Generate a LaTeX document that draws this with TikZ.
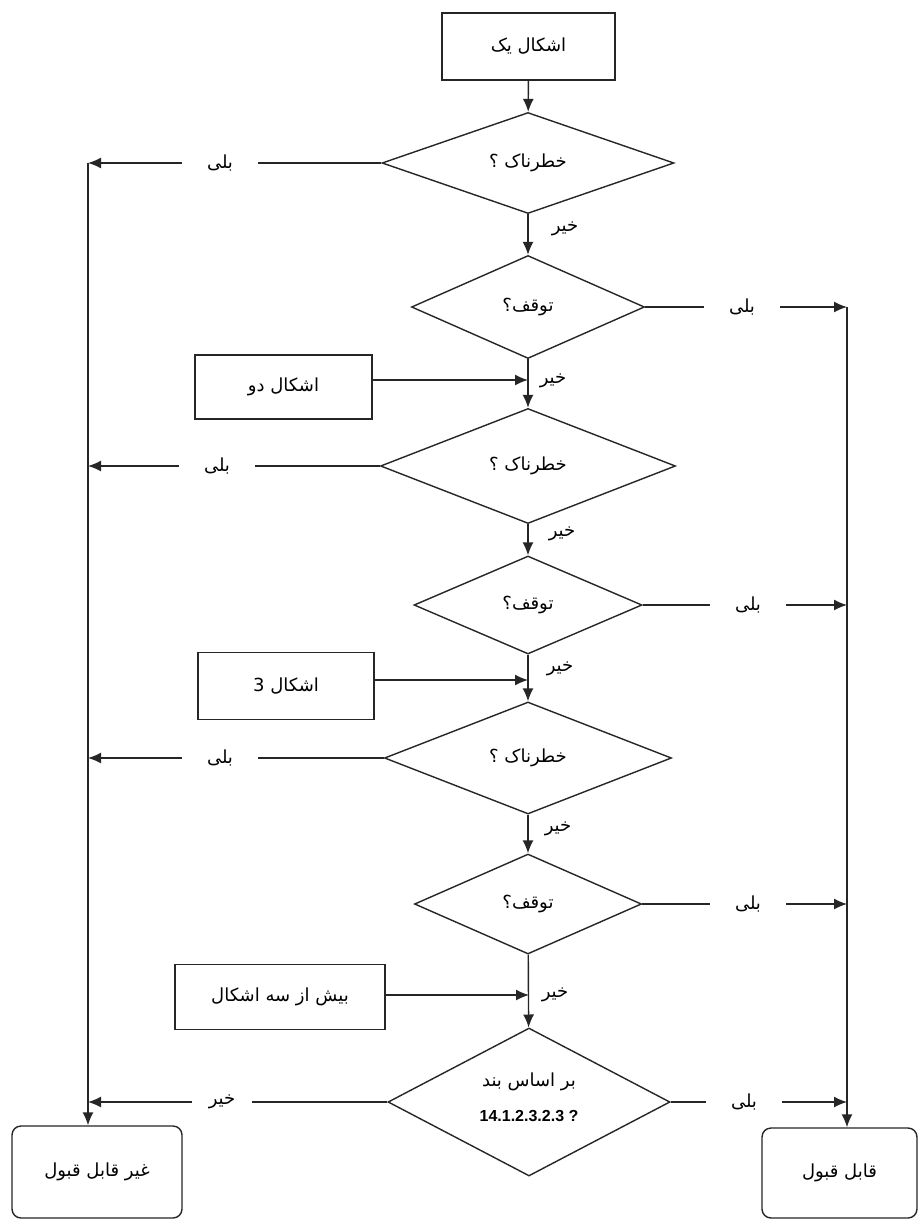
\documentclass[tikz,border=0pt]{standalone}
\usepackage{fontspec}
\usetikzlibrary{shapes.geometric,arrows.meta}
\TeXXeTstate=1
\newfontfamily\fa[Script=Arabic]{DejaVu Sans}
\newfontfamily\lat{Liberation Sans}
\newcommand{\rtl}[1]{{\fa\beginR #1\endR}}
\begin{document}
\begin{tikzpicture}[x=1pt,y=-1pt,
  every node/.style={font=\fa\fontsize{18}{20}\selectfont},
  conn/.style={line width=1.4pt,draw=black!85},
  arr/.style={conn,-{Latex[length=13pt,width=11pt]}},
  rectbox/.style={draw=black!85,line width=1.4pt,rectangle,inner sep=0pt},
  endbox/.style={rectbox,rounded corners=9pt},
  dec/.style={draw=black!85,line width=1.4pt,diamond,inner sep=0pt},
  lbl/.style={minimum width=76pt,inner sep=0pt,minimum height=10pt},
  nolbl/.style={inner sep=0pt}]
\fill[white] (0,0) rectangle (922,1220);
\useasboundingbox (0,0) rectangle (922,1220);

% boxes
\node[rectbox,minimum width=173pt,minimum height=67pt] (b1) at (528.5,46.5) {\rtl{اشکال یک}};
\node[rectbox,minimum width=177pt,minimum height=64pt] (b2) at (283.5,387) {\rtl{اشکال دو}};
\node[rectbox,minimum width=176pt,minimum height=67pt] (b3) at (286,686) {\rtl{اشکال 3}};
\node[rectbox,minimum width=210pt,minimum height=65pt] (b4) at (280,997) {\rtl{بیش از سه اشکال}};
\node[endbox,minimum width=170pt,minimum height=92pt] (rej) at (97,1172) {\rtl{غیر قابل قبول}};
\node[endbox,minimum width=155pt,minimum height=90pt] (acc) at (839.5,1173) {\rtl{قابل قبول}};

% decisions
\node[dec,minimum width=292pt,minimum height=101pt] (d1) at (528,163) {\rtl{خطرناک ؟}};
\node[dec,minimum width=233pt,minimum height=103pt] (d2) at (528,307) {\rtl{توقف؟}};
\node[dec,minimum width=295pt,minimum height=115pt] (d3) at (528,466) {\rtl{خطرناک ؟}};
\node[dec,minimum width=228pt,minimum height=98pt] (d4) at (528,605) {\rtl{توقف؟}};
\node[dec,minimum width=287pt,minimum height=112pt] (d5) at (528,758) {\rtl{خطرناک ؟}};
\node[dec,minimum width=227pt,minimum height=100pt] (d6) at (528,904) {\rtl{توقف؟}};
\node[dec,minimum width=282pt,minimum height=148pt] (d7) at (529,1102) {};
\node (d7a) at (529,1082) {\rtl{بر اساس بند}};
\node[font=\lat\bfseries\fontsize{16}{18}\selectfont] (d7b) at (529,1116) {14.1.2.3.2.3 ?};

% side rails
\coordinate (Ltop) at (88,163);
\coordinate (Rtop) at (847,307);
\draw[arr] (Ltop) -- (Ltop |- rej.north);
\draw[arr] (Rtop) -- (Rtop |- acc.north);

% main flow
\draw[arr] (b1) -- (d1);
\draw[arr] (d1) -- (d2);
\draw[arr] (d2) -- (d3);
\draw[arr] (d3) -- (d4);
\draw[arr] (d4) -- (d5);
\draw[arr] (d5) -- (d6);
\draw[arr] (d6) -- (d7);

% "no" labels on main flow
\node[nolbl] (n1) at (565,229) {\rtl{خیر}};
\node[nolbl] (n2) at (553,381) {\rtl{خیر}};
\node[nolbl] (n3) at (562,534) {\rtl{خیر}};
\node[nolbl] (n4) at (560,669) {\rtl{خیر}};
\node[nolbl] (n5) at (558,829) {\rtl{خیر}};
\node[nolbl] (n6) at (555,995) {\rtl{خیر}};

% side inputs
\draw[arr] ([yshift=7pt]b2.east) -- ([yshift=7pt]b2.east -| d3.north);
\draw[arr] ([yshift=6pt]b3.east) -- ([yshift=6pt]b3.east -| d5.north);
\draw[arr] ([yshift=2pt]b4.east) -- ([yshift=2pt]b4.east -| d7.north);

% left branches
\node[lbl] (y1) at (220,163) {\rtl{بلی}};
\node[lbl] (y3) at (217,466) {\rtl{بلی}};
\node[lbl] (y5) at (220,758) {\rtl{بلی}};
\node[lbl,minimum width=60pt] (no7) at (222,1102) {\rtl{خیر}};
\draw[conn] (d1.west) -- (y1.east);
\draw[arr] (y1.west) -- (y1.west -| Ltop);
\draw[conn] (d3.west) -- (y3.east);
\draw[arr] (y3.west) -- (y3.west -| Ltop);
\draw[conn] (d5.west) -- (y5.east);
\draw[arr] (y5.west) -- (y5.west -| Ltop);
\draw[conn] (d7.west) -- (no7.east);
\draw[arr] (no7.west) -- (no7.west -| Ltop);

% right branches
\node[lbl] (y2) at (742,307) {\rtl{بلی}};
\node[lbl] (y4) at (748,605) {\rtl{بلی}};
\node[lbl] (y6) at (748,904) {\rtl{بلی}};
\node[lbl] (y7) at (744,1102) {\rtl{بلی}};
\draw[conn] (d2.east) -- (y2.west);
\draw[arr] (y2.east) -- (y2.east -| Rtop);
\draw[conn] (d4.east) -- (y4.west);
\draw[arr] (y4.east) -- (y4.east -| Rtop);
\draw[conn] (d6.east) -- (y6.west);
\draw[arr] (y6.east) -- (y6.east -| Rtop);
\draw[conn] (d7.east) -- (y7.west);
\draw[arr] (y7.east) -- (y7.east -| Rtop);
\end{tikzpicture}
\end{document}
